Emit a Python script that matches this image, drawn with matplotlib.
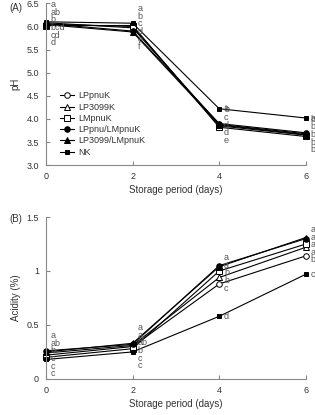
import numpy as np
import matplotlib.pyplot as plt

days = [0, 2, 4, 6]
series = ["LPpnuK", "LP3099K", "LMpnuK", "LPpnu/LMpnuK", "LP3099/LMpnuK", "NK"]

ph = {
    "LPpnuK":        [6.05, 6.00, 3.85, 3.65],
    "LP3099K":       [6.08, 5.97, 3.88, 3.68],
    "LMpnuK":        [6.02, 6.02, 3.82, 3.62],
    "LPpnu/LMpnuK":  [6.06, 5.90, 3.90, 3.70],
    "LP3099/LMpnuK": [6.04, 5.88, 3.87, 3.66],
    "NK":            [6.10, 6.07, 4.22, 4.02],
}
ph_letters = {
    "LPpnuK":        ["bcd", "c", "d", "b"],
    "LP3099K":       ["ab", "d", "c", "b"],
    "LMpnuK":        ["d", "b", "e", "b"],
    "LPpnu/LMpnuK":  ["b", "e", "b", "b"],
    "LP3099/LMpnuK": ["cd", "f", "d", "b"],
    "NK":            ["a", "a", "a", "a"],
}

acid = {
    "LPpnuK":        [0.22, 0.30, 0.88, 1.14],
    "LP3099K":       [0.24, 0.31, 0.94, 1.22],
    "LMpnuK":        [0.20, 0.28, 1.00, 1.25],
    "LPpnu/LMpnuK":  [0.26, 0.32, 1.05, 1.30],
    "LP3099/LMpnuK": [0.25, 0.33, 1.04, 1.31],
    "NK":            [0.18, 0.25, 0.58, 0.97],
}
acid_letters = {
    "LPpnuK":        ["c", "b", "c", "b"],
    "LP3099K":       ["b", "ab", "b", "a"],
    "LMpnuK":        ["c", "c", "b", "a"],
    "LPpnu/LMpnuK":  ["a", "a", "a", "a"],
    "LP3099/LMpnuK": ["ab", "a", "a", "a"],
    "NK":            ["c", "c", "d", "c"],
}

styles = {
    "LPpnuK":        dict(marker="o", mfc="white", ms=4),
    "LP3099K":       dict(marker="^", mfc="white", ms=4),
    "LMpnuK":        dict(marker="s", mfc="white", ms=4),
    "LPpnu/LMpnuK":  dict(marker="o", mfc="black", ms=4),
    "LP3099/LMpnuK": dict(marker="^", mfc="black", ms=4),
    "NK":            dict(marker="s", mfc="black", ms=3),
}

plt.rcParams["font.family"] = ["Liberation Sans", "DejaVu Sans"]
fig = plt.figure(figsize=(3.15, 4.15), dpi=100)
axA = fig.add_axes([0.146, 0.602, 0.825, 0.390])
axB = fig.add_axes([0.146, 0.087, 0.825, 0.390])


def add_letters(ax, data, letters, ylim):
    span = ylim[1] - ylim[0]
    for i, d in enumerate(days):
        pts = sorted(((data[s][i], letters[s][i]) for s in series), reverse=True)
        clusters = [[pts[0]]]
        for p in pts[1:]:
            if clusters[-1][-1][0] - p[0] < 0.06 * span:
                clusters[-1].append(p)
            else:
                clusters.append([p])
        for cl in clusters:
            ymid = np.mean([p[0] for p in cl])
            n = len(cl)
            for k, (_, lab) in enumerate(cl):
                dy = ((n - 1) / 2 - k) * 5.5
                ax.annotate(lab, (d, ymid), xytext=(3.5, dy), textcoords="offset points",
                            fontsize=6.5, color="#555555", va="center", ha="left",
                            annotation_clip=False)


def style_axes(ax, ylim, yticks, ylabels, ylabel):
    ax.set_xlim(0, 6)
    ax.set_ylim(*ylim)
    ax.set_xticks(days)
    ax.set_yticks(yticks)
    ax.set_yticklabels(ylabels)
    for sp in ["top", "right"]:
        ax.spines[sp].set_visible(False)
    for sp in ["left", "bottom"]:
        ax.spines[sp].set_color("#888888")
        ax.spines[sp].set_linewidth(0.8)
    ax.tick_params(direction="in", length=3, width=0.8, color="#888888",
                   labelsize=6.5, labelcolor="#333333", pad=5)
    ax.set_xlabel("Storage period (days)", fontsize=7, color="#333333", labelpad=3)
    ax.set_ylabel(ylabel, fontsize=7, color="#333333", labelpad=4)


for s in series:
    axA.plot(days, ph[s], color="black", lw=0.8, mec="black", mew=0.7,
             label=s, clip_on=False, **styles[s])
    axB.plot(days, acid[s], color="black", lw=0.8, mec="black", mew=0.7,
             label=s, clip_on=False, **styles[s])

style_axes(axA, (3.0, 6.5), np.arange(3.0, 6.51, 0.5),
           ["%.1f" % v for v in np.arange(3.0, 6.51, 0.5)], "pH")
style_axes(axB, (0, 1.5), [0, 0.5, 1, 1.5], ["0", "0.5", "1", "1.5"], "Acidity (%)")

add_letters(axA, ph, ph_letters, (3.0, 6.5))
add_letters(axB, acid, acid_letters, (0, 1.5))

leg = axA.legend(loc="lower left", bbox_to_anchor=(0.04, 0.03), frameon=False,
                 fontsize=6.5, handlelength=1.6, handletextpad=0.4, labelspacing=0.25,
                 borderaxespad=0)
for t in leg.get_texts():
    t.set_color("#333333")

fig.text(0.03, 0.98, "(A)", fontsize=7, color="#333333", va="center")
fig.text(0.03, 0.472, "(B)", fontsize=7, color="#333333", va="center")

fig.savefig("out.png", dpi=100)
